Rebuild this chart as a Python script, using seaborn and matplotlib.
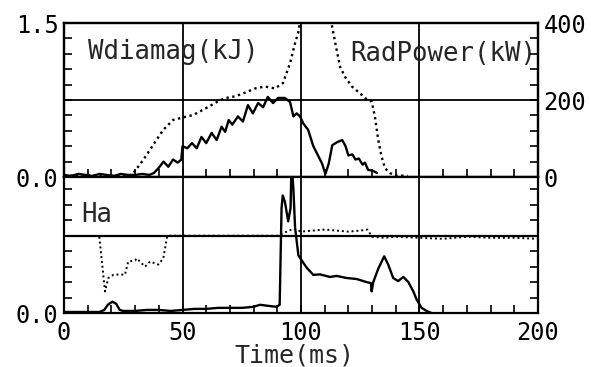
import numpy as np
import pandas as pd
import seaborn as sns
import matplotlib.pyplot as plt

# top panel, solid: stored energy (kJ, left axis)
wdia_t = [0, 3, 6, 9, 12, 15, 18, 21, 24, 27, 30, 33, 36, 38, 40, 42, 44, 46, 48, 49.5,
          50, 52, 54, 56, 58, 60, 62.3, 64.4, 66.5, 68, 69.5, 71, 73.4, 75.5, 77.6, 79.7,
          81.9, 84, 86, 88.2, 90.3, 93.2, 95.4, 96.8, 98.2, 99.6, 101, 103, 105.2, 107.4,
          108.9, 110.3, 111.7, 113.2, 115.3, 117.4, 118.8, 120, 121.7, 123, 124.4, 126,
          127, 128.3, 130.4, 132]
wdia_val = [0.02, 0.01, 0.03, 0.02, 0.01, 0.03, 0.02, 0.01, 0.03, 0.02, 0.02, 0.03, 0.02,
            0.04, 0.09, 0.15, 0.10, 0.17, 0.14, 0.17, 0.30, 0.28, 0.33, 0.28, 0.39, 0.33,
            0.43, 0.36, 0.49, 0.44, 0.555, 0.51, 0.59, 0.54, 0.70, 0.62, 0.72, 0.68, 0.78,
            0.72, 0.77, 0.77, 0.73, 0.59, 0.62, 0.59, 0.52, 0.46, 0.30, 0.20, 0.13, 0.03,
            0.13, 0.31, 0.34, 0.36, 0.30, 0.21, 0.22, 0.17, 0.18, 0.12, 0.14, 0.07, 0.06, 0.04]

# top panel, dotted: radiated power (kW, right axis)
rad_t = [0, 5, 10, 15, 20, 25, 28, 29, 33.4, 37.6, 41.8, 46, 49.7, 54.5, 60, 66, 70, 72,
         76, 80.6, 84.8, 89, 92.4, 95.4, 97.5, 98.8, 100, 105, 110, 113, 115.3, 116.5,
         118.6, 121.5, 125.7, 128, 129.8, 131.2, 132.6, 134, 135.4, 137.6, 140, 145]
rad_val = [4, 3, 5, 4, 3, 5, 5, 8, 44, 83, 122, 148, 154, 161, 179, 200, 208, 209, 218,
           230, 235, 230, 244, 296, 348, 374, 420, 480, 450, 395, 322, 286, 260, 235, 213,
           200, 196, 157, 96, 53, 23, 10, 4, 3]

# bottom panel, solid: H-alpha
ha_t = [0, 5, 10, 15, 17, 18.5, 20.4, 22, 23.5, 25, 30, 35, 40, 45, 50, 55, 60, 65, 70, 75,
        80, 82.7, 86, 89.7, 91, 91.8, 92.3, 93.2, 94.6, 95.6, 96, 96.8, 97.5, 98.9, 100.3,
        102.4, 105.2, 108, 112.2, 115, 119.2, 123.5, 127.7, 129.5, 129.8, 130.5, 132.6,
        135.1, 136.8, 138.9, 141, 143.2, 145.3, 147.4, 148.8, 150.9, 153, 155]
ha_val = [0.01, 0.01, 0.01, 0.01, 0.03, 0.08, 0.11, 0.09, 0.03, 0.02, 0.02, 0.03, 0.03,
          0.02, 0.03, 0.04, 0.04, 0.05, 0.05, 0.05, 0.06, 0.08, 0.07, 0.06, 0.08, 1.02,
          1.14, 1.08, 0.89, 1.02, 1.45, 1.2, 0.83, 0.56, 0.51, 0.44, 0.37, 0.375, 0.35,
          0.36, 0.34, 0.33, 0.30, 0.29, 0.21, 0.30, 0.43, 0.55, 0.47, 0.34, 0.31, 0.35,
          0.30, 0.21, 0.13, 0.05, 0.02, 0.0]

# bottom panel, dotted
had_t = [14.9, 17.3, 18.7, 20.8, 23.6, 25.7, 27.1, 30, 30.7, 32, 34.2, 36.3, 39.8, 41.9,
         43.3, 43.6, 50, 60, 70, 80, 90, 93, 95, 97, 100, 105, 110, 115, 120, 125, 128,
         130, 135, 140, 150, 160, 170, 180, 190, 200]
had_val = [0.74, 0.21, 0.34, 0.37, 0.375, 0.37, 0.50, 0.51, 0.53, 0.50, 0.45, 0.50, 0.47,
           0.53, 0.72, 0.75, 0.75, 0.75, 0.75, 0.75, 0.75, 0.78, 0.80, 0.82, 0.79, 0.80,
           0.81, 0.80, 0.79, 0.80, 0.81, 0.74, 0.73, 0.74, 0.73, 0.72, 0.74, 0.73, 0.73, 0.72]

x_labels = ['0', '50', '100', '150', '200']

sns.set_theme(style="white")
plt.rcParams['font.family'] = ['DejaVu Sans Mono', 'DejaVu Sans']

fig = plt.figure(figsize=(5.91, 3.67), dpi=100)
ax1 = fig.add_axes([0.1083, 0.5177, 0.802, 0.4196])
ax1r = ax1.twinx()
ax2 = fig.add_axes([0.1083, 0.1471, 0.802, 0.3706])

dots = (0, (1, 1.5))
sns.lineplot(x=wdia_t, y=wdia_val, ax=ax1, color='black', lw=1.7, estimator=None)
sns.lineplot(x=rad_t, y=rad_val, ax=ax1r, color='black', lw=1.7, linestyle=dots, estimator=None)
sns.lineplot(x=ha_t, y=ha_val, ax=ax2, color='black', lw=1.7, estimator=None)
sns.lineplot(x=had_t, y=had_val, ax=ax2, color='black', lw=1.4, linestyle=dots, estimator=None)

for ax in (ax1, ax2):
    for xv in (50, 100, 150):
        ax.axvline(xv, color='black', lw=1.3, zorder=1)
    ax.set_xlim(0, 200)
    ax.set_xticks(np.arange(0, 201, 10))
    ax.set_ylabel('')
    for s in ax.spines.values():
        s.set_color('black')
        s.set_linewidth(1.6)
    ax.tick_params(direction='in', length=6, width=1.2, colors='black',
                   labelsize=17, left=True, bottom=True, right=True, pad=4)
ax1.axhline(0.75, color='black', lw=1.3, zorder=1)
ax2.axhline(0.75, color='black', lw=1.6, zorder=3)

ax1.set_ylim(0, 1.5)
yt = np.arange(0, 1.51, 0.15)
ax1.set_yticks(yt)
ax1.set_yticklabels(['0.0'] + [''] * 9 + ['1.5'])
ax1.set_xticklabels([])
ax1.tick_params(right=False)

ax1r.set_ylim(0, 400)
ax1r.set_yticks(np.arange(0, 401, 40))
ax1r.set_yticklabels(['0'] + [''] * 4 + ['200'] + [''] * 4 + ['400'])
ax1r.set_ylabel('')
ax1r.tick_params(direction='in', length=6, width=1.2, colors='black', labelsize=17, pad=4)
for s in ax1r.spines.values():
    s.set_linewidth(1.6)
    s.set_color('black')

ax2.set_ylim(0, 1.32)
ax2.set_yticks(np.arange(0, 1.31, 0.15))
ax2.set_yticklabels(['0.0'] + [''] * 8)
ax2.yaxis.set_ticks_position('both')
ax2.set_xticklabels([x_labels[i // 5] if i % 5 == 0 else '' for i in range(21)])
ax2.tick_params(axis='x', pad=6)

ax2.set_xlabel('Time(ms)', fontsize=18)
ax2.xaxis.set_label_coords(0.487, -0.316)
ax2.xaxis.label.set_va('center')

ax1.text(0.05, 0.81, 'Wdiamag(kJ)', transform=ax1.transAxes, fontsize=18.5, va='center', ha='left')
ax1.text(0.997, 0.80, 'RadPower(kW)', transform=ax1.transAxes, fontsize=18.5, va='center', ha='right')
ax2.text(0.037, 0.72, 'Ha', transform=ax2.transAxes, fontsize=18.5, va='center', ha='left')

plt.savefig('out.png', dpi=100)
